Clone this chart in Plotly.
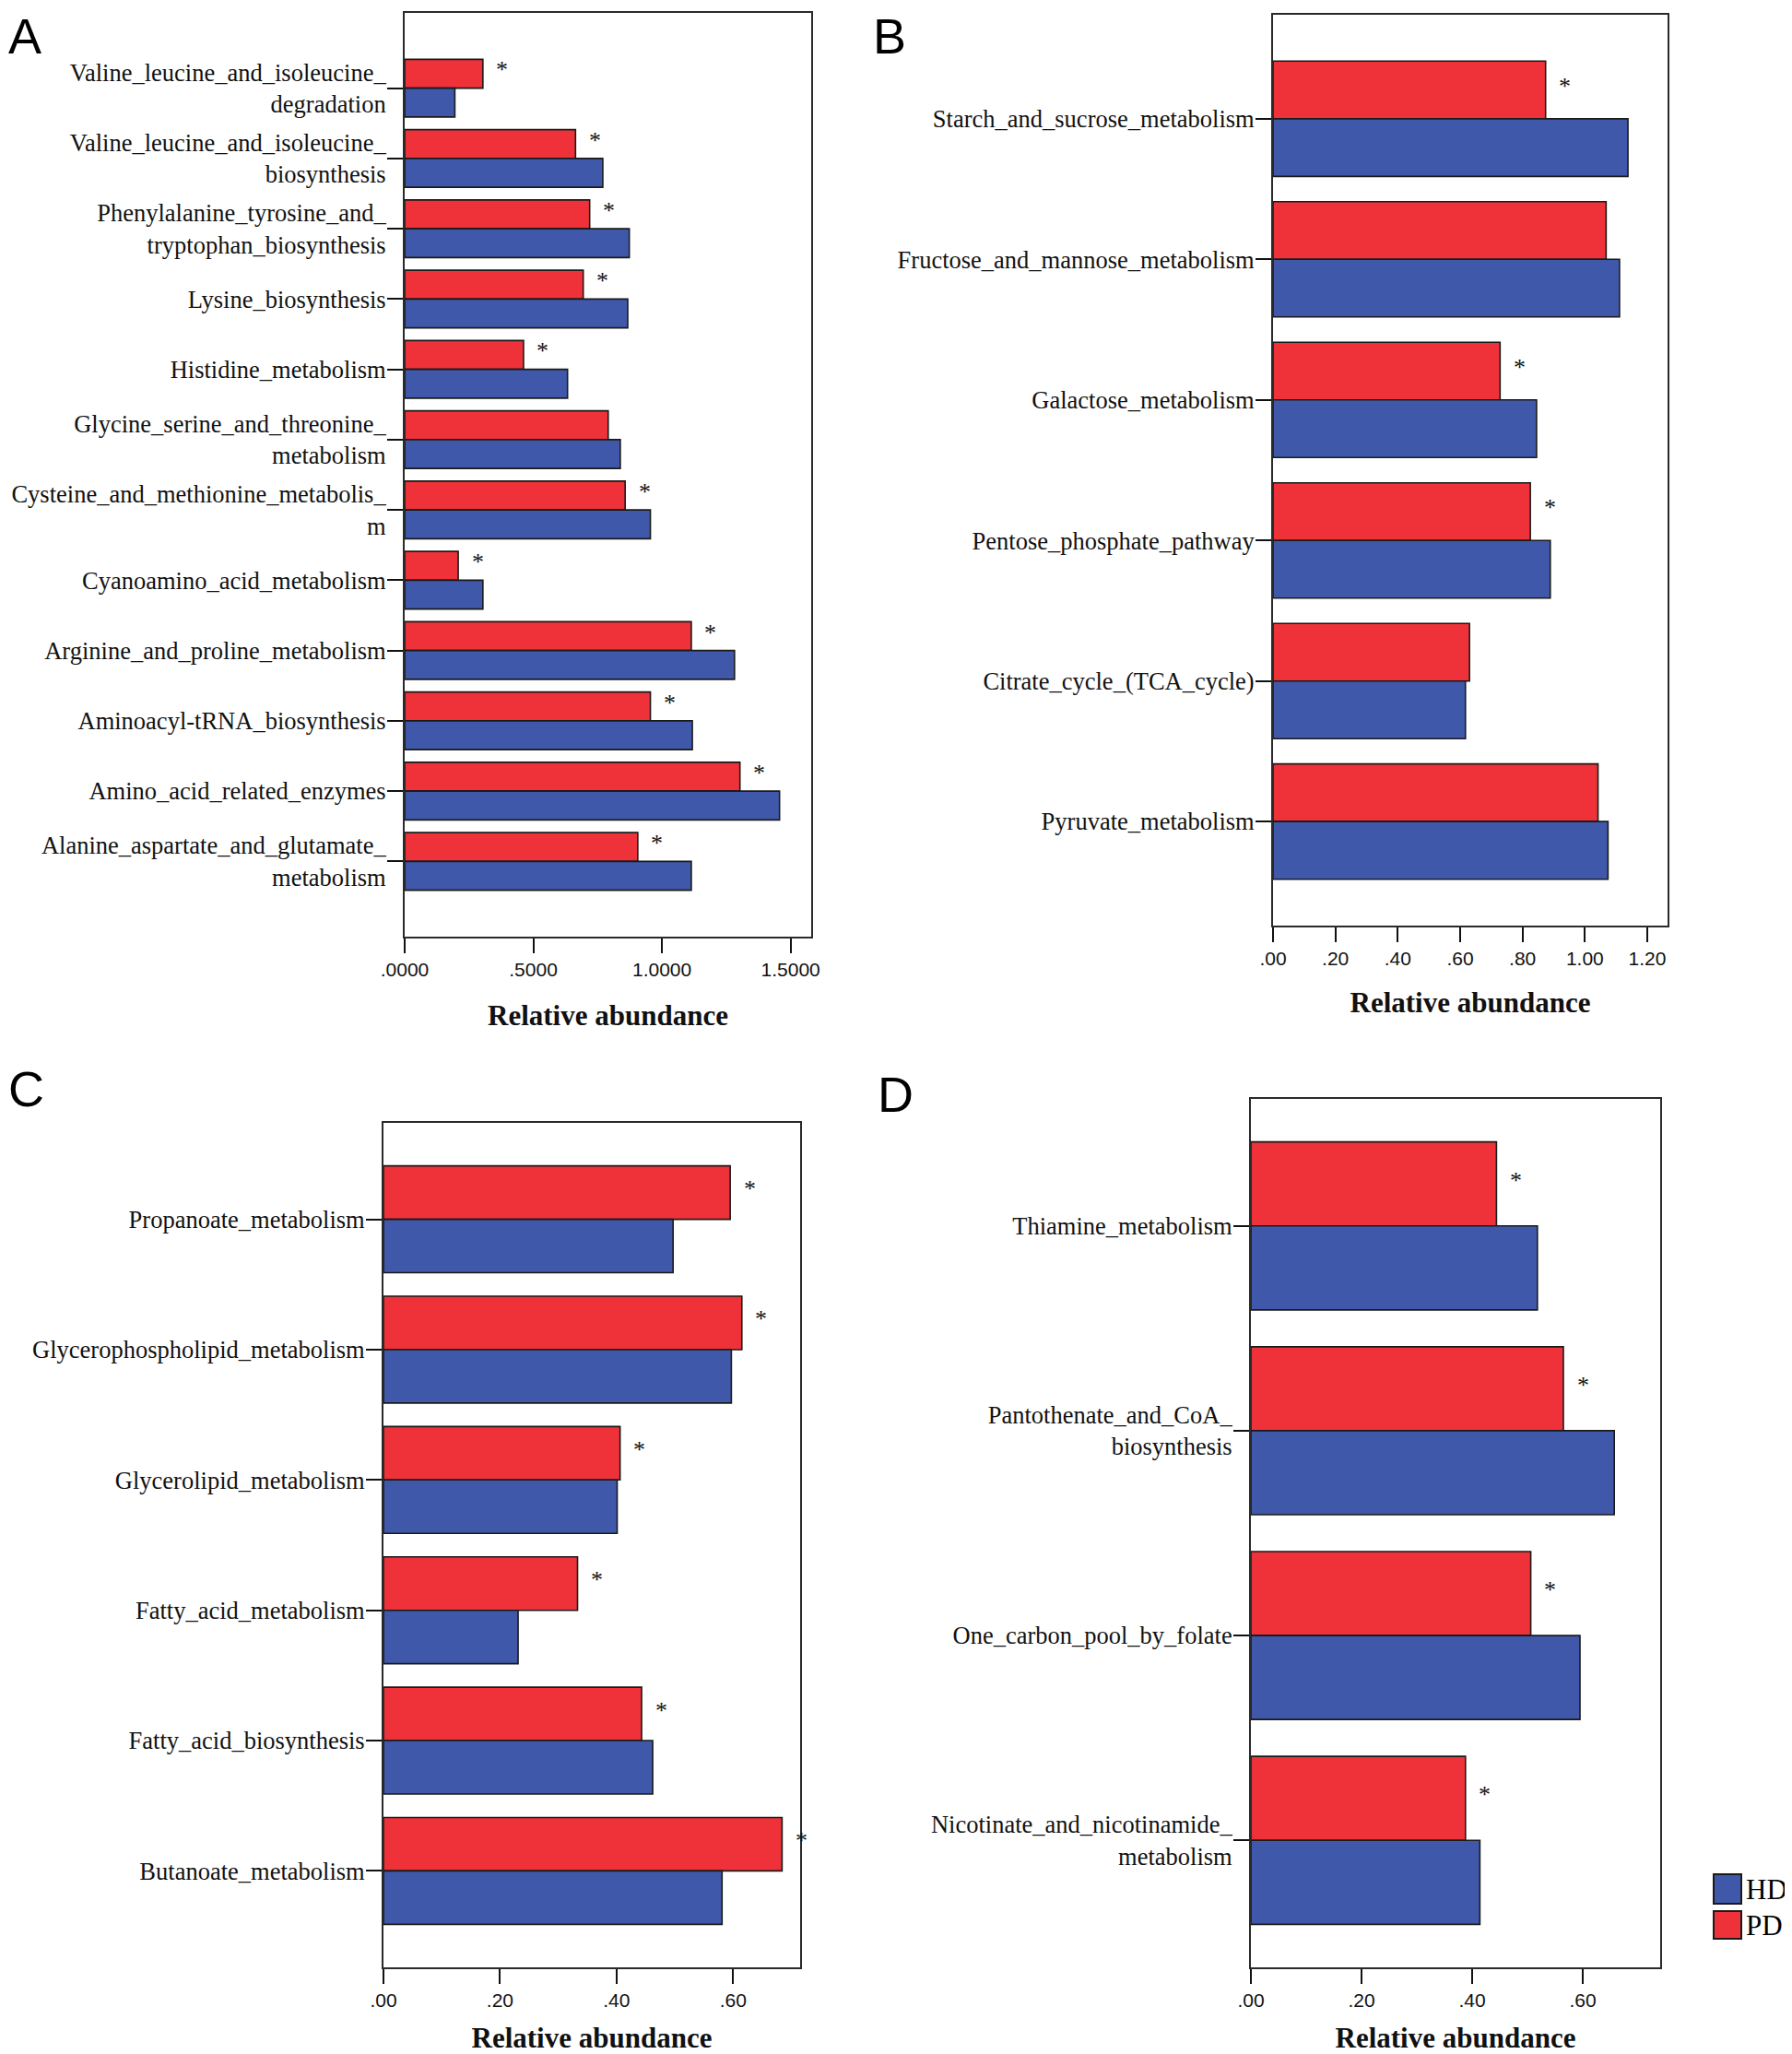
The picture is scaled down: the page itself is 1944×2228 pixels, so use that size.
import plotly.graph_objects as go

# ---------------- data ----------------
A_categories = [
    "Valine_leucine_and_isoleucine_<br>degradation",
    "Valine_leucine_and_isoleucine_<br>biosynthesis",
    "Phenylalanine_tyrosine_and_<br>tryptophan_biosynthesis",
    "Lysine_biosynthesis",
    "Histidine_metabolism",
    "Glycine_serine_and_threonine_<br>metabolism",
    "Cysteine_and_methionine_metabolis_<br>m",
    "Cyanoamino_acid_metabolism",
    "Arginine_and_proline_metabolism",
    "Aminoacyl-tRNA_biosynthesis",
    "Amino_acid_related_enzymes",
    "Alanine_aspartate_and_glutamate_<br>metabolism",
]
A_PD = [0.304, 0.664, 0.719, 0.694, 0.462, 0.791, 0.857, 0.208, 1.114, 0.955, 1.303, 0.906]
A_HD = [0.195, 0.770, 0.873, 0.867, 0.633, 0.838, 0.955, 0.304, 1.282, 1.118, 1.457, 1.114]
A_sig = [1, 1, 1, 1, 1, 0, 1, 1, 1, 1, 1, 1]
A_tickvals = [0, 0.5, 1.0, 1.5]
A_ticktext = [".0000", ".5000", "1.0000", "1.5000"]

B_categories = [
    "Starch_and_sucrose_metabolism",
    "Fructose_and_mannose_metabolism",
    "Galactose_metabolism",
    "Pentose_phosphate_pathway",
    "Citrate_cycle_(TCA_cycle)",
    "Pyruvate_metabolism",
]
B_PD = [0.874, 1.068, 0.728, 0.825, 0.630, 1.042]
B_HD = [1.138, 1.111, 0.845, 0.889, 0.617, 1.074]
B_sig = [1, 0, 1, 1, 0, 0]
B_tickvals = [0, 0.2, 0.4, 0.6, 0.8, 1.0, 1.2]
B_ticktext = [".00", ".20", ".40", ".60", ".80", "1.00", "1.20"]

C_categories = [
    "Propanoate_metabolism",
    "Glycerophospholipid_metabolism",
    "Glycerolipid_metabolism",
    "Fatty_acid_metabolism",
    "Fatty_acid_biosynthesis",
    "Butanoate_metabolism",
]
C_PD = [0.595, 0.615, 0.406, 0.333, 0.443, 0.684]
C_HD = [0.497, 0.597, 0.401, 0.231, 0.462, 0.581]
C_sig = [1, 1, 1, 1, 1, 1]
C_tickvals = [0, 0.2, 0.4, 0.6]
C_ticktext = [".00", ".20", ".40", ".60"]

D_categories = [
    "Thiamine_metabolism",
    "Pantothenate_and_CoA_<br>biosynthesis",
    "One_carbon_pool_by_folate",
    "Nicotinate_and_nicotinamide_<br>metabolism",
]
D_PD = [0.444, 0.565, 0.506, 0.388]
D_HD = [0.518, 0.657, 0.595, 0.414]
D_sig = [1, 1, 1, 1]
D_tickvals = [0, 0.2, 0.4, 0.6]
D_ticktext = [".00", ".20", ".40", ".60"]

series_names = ["HD", "PD"]
panel_letters = ["A", "B", "C", "D"]
x_title = "Relative abundance"

# ---------------- style / layout ----------------
PAGE_W, PAGE_H = 1944, 2228
OFF = 8                      # default body margin of the html page
W, H = PAGE_W - OFF, PAGE_H - OFF
RED = "#EF3239"
BLUE = "#3F58AA"
EDGE = "#1a1a1a"
FRAME = "#2a2a2a"
SERIF = "Liberation Serif"
SANS = "Liberation Sans"
BARGAP = 0.18


def px(x):
    return (x - OFF) / W


def py(y):
    return 1 - (y - OFF) / H


# pixel boxes (page coordinates) of each plot frame: (left, right, top, bottom)
panels = [
    dict(cats=A_categories, pd=A_PD, hd=A_HD, sig=A_sig, tv=A_tickvals, tt=A_ticktext,
         box=(439, 880, 14, 1016), xmax=1.58, pad=1.07, standoff=28),
    dict(cats=B_categories, pd=B_PD, hd=B_HD, sig=B_sig, tv=B_tickvals, tt=B_ticktext,
         box=(1381, 1809, 16, 1004), xmax=1.265, pad=0.74, standoff=26),
    dict(cats=C_categories, pd=C_PD, hd=C_HD, sig=C_sig, tv=C_tickvals, tt=C_ticktext,
         box=(416, 868, 1218, 2134), xmax=0.715, pad=0.74, standoff=21),
    dict(cats=D_categories, pd=D_PD, hd=D_HD, sig=D_sig, tv=D_tickvals, tt=D_ticktext,
         box=(1357, 1801, 1192, 2134), xmax=0.740, pad=0.62, standoff=21),
]
# top-left corners of the panel letters (page coordinates), kept inside the figure
letter_pos = [(8, 8), (946, 8), (8, 1150), (951, 1156)]

fig = go.Figure()
annotations = []
shapes = []
layout = {}

for i, p in enumerate(panels):
    sfx = "" if i == 0 else str(i + 1)
    xa, ya = "x" + sfx, "y" + sfx
    l, r, t, b = p["box"]
    n = len(p["cats"])

    fig.add_trace(go.Bar(
        y=p["cats"], x=p["pd"], orientation="h", name=series_names[1],
        marker=dict(color=RED, line=dict(color=EDGE, width=1.6)),
        xaxis=xa, yaxis=ya, showlegend=False))
    fig.add_trace(go.Bar(
        y=p["cats"], x=p["hd"], orientation="h", name=series_names[0],
        marker=dict(color=BLUE, line=dict(color=EDGE, width=1.6)),
        xaxis=xa, yaxis=ya, showlegend=False))

    layout["xaxis" + sfx] = dict(
        domain=[px(l), px(r)], anchor=ya, range=[0, p["xmax"]], automargin=False,
        tickmode="array", tickvals=p["tv"], ticktext=p["tt"],
        ticks="outside", ticklen=16, tickwidth=2, tickcolor="#111",
        showline=True, linecolor=FRAME, linewidth=2, mirror=True,
        showgrid=False, zeroline=False,
        tickfont=dict(family=SANS, size=21, color="#111"),
        title=dict(text="<b>" + x_title + "</b>",
                   font=dict(family=SERIF, size=31, color="#111"), standoff=p["standoff"]),
    )
    layout["yaxis" + sfx] = dict(
        domain=[py(b), py(t)], anchor=xa, type="category", automargin=False,
        range=[n - 1 + p["pad"], -p["pad"]],
        ticks="outside", ticklen=17, tickwidth=2, tickcolor="#111",
        ticklabelstandoff=-4,
        showline=True, linecolor=FRAME, linewidth=2, mirror=True,
        showgrid=False, zeroline=False,
        tickfont=dict(family=SERIF, size=26.5, color="#111"),
    )

    # significance asterisks next to PD bars
    off = (1 - BARGAP) / 4
    for j, (v, s) in enumerate(zip(p["pd"], p["sig"])):
        if s:
            annotations.append(dict(
                x=v, y=j - off, xref=xa, yref=ya, text="*", showarrow=False,
                xanchor="center", yanchor="middle", xshift=21, yshift=4,
                font=dict(family=SERIF, size=26, color="#111")))

    lx, ly = letter_pos[i]
    annotations.append(dict(
        x=px(lx), y=py(ly), xref="paper", yref="paper", text=panel_letters[i],
        showarrow=False, xanchor="left", yanchor="top", borderpad=0,
        font=dict(family=SANS, size=54, color="#000")))

# legend (HD, PD) drawn at bottom right
legend_items = [(series_names[0], BLUE, 2033, 2065), (series_names[1], RED, 2073, 2103)]
for name, col, y0, y1 in legend_items:
    shapes.append(dict(type="rect", xref="paper", yref="paper",
                       x0=px(1859), x1=px(1889), y0=py(y1), y1=py(y0),
                       fillcolor=col, line=dict(color=EDGE, width=2)))
    annotations.append(dict(
        x=px(1892), y=py((y0 + y1) / 2), xref="paper", yref="paper", text=name,
        showarrow=False, xanchor="left", yanchor="middle",
        font=dict(family=SERIF, size=31, color="#000")))

fig.update_layout(
    width=W, height=H, autosize=False,
    margin=dict(l=0, r=0, t=0, b=0, autoexpand=False),
    paper_bgcolor="white", plot_bgcolor="white",
    barmode="group", bargap=BARGAP, bargroupgap=0,
    showlegend=False,
    annotations=annotations, shapes=shapes,
    **layout,
)

fig.write_html("out.html")
